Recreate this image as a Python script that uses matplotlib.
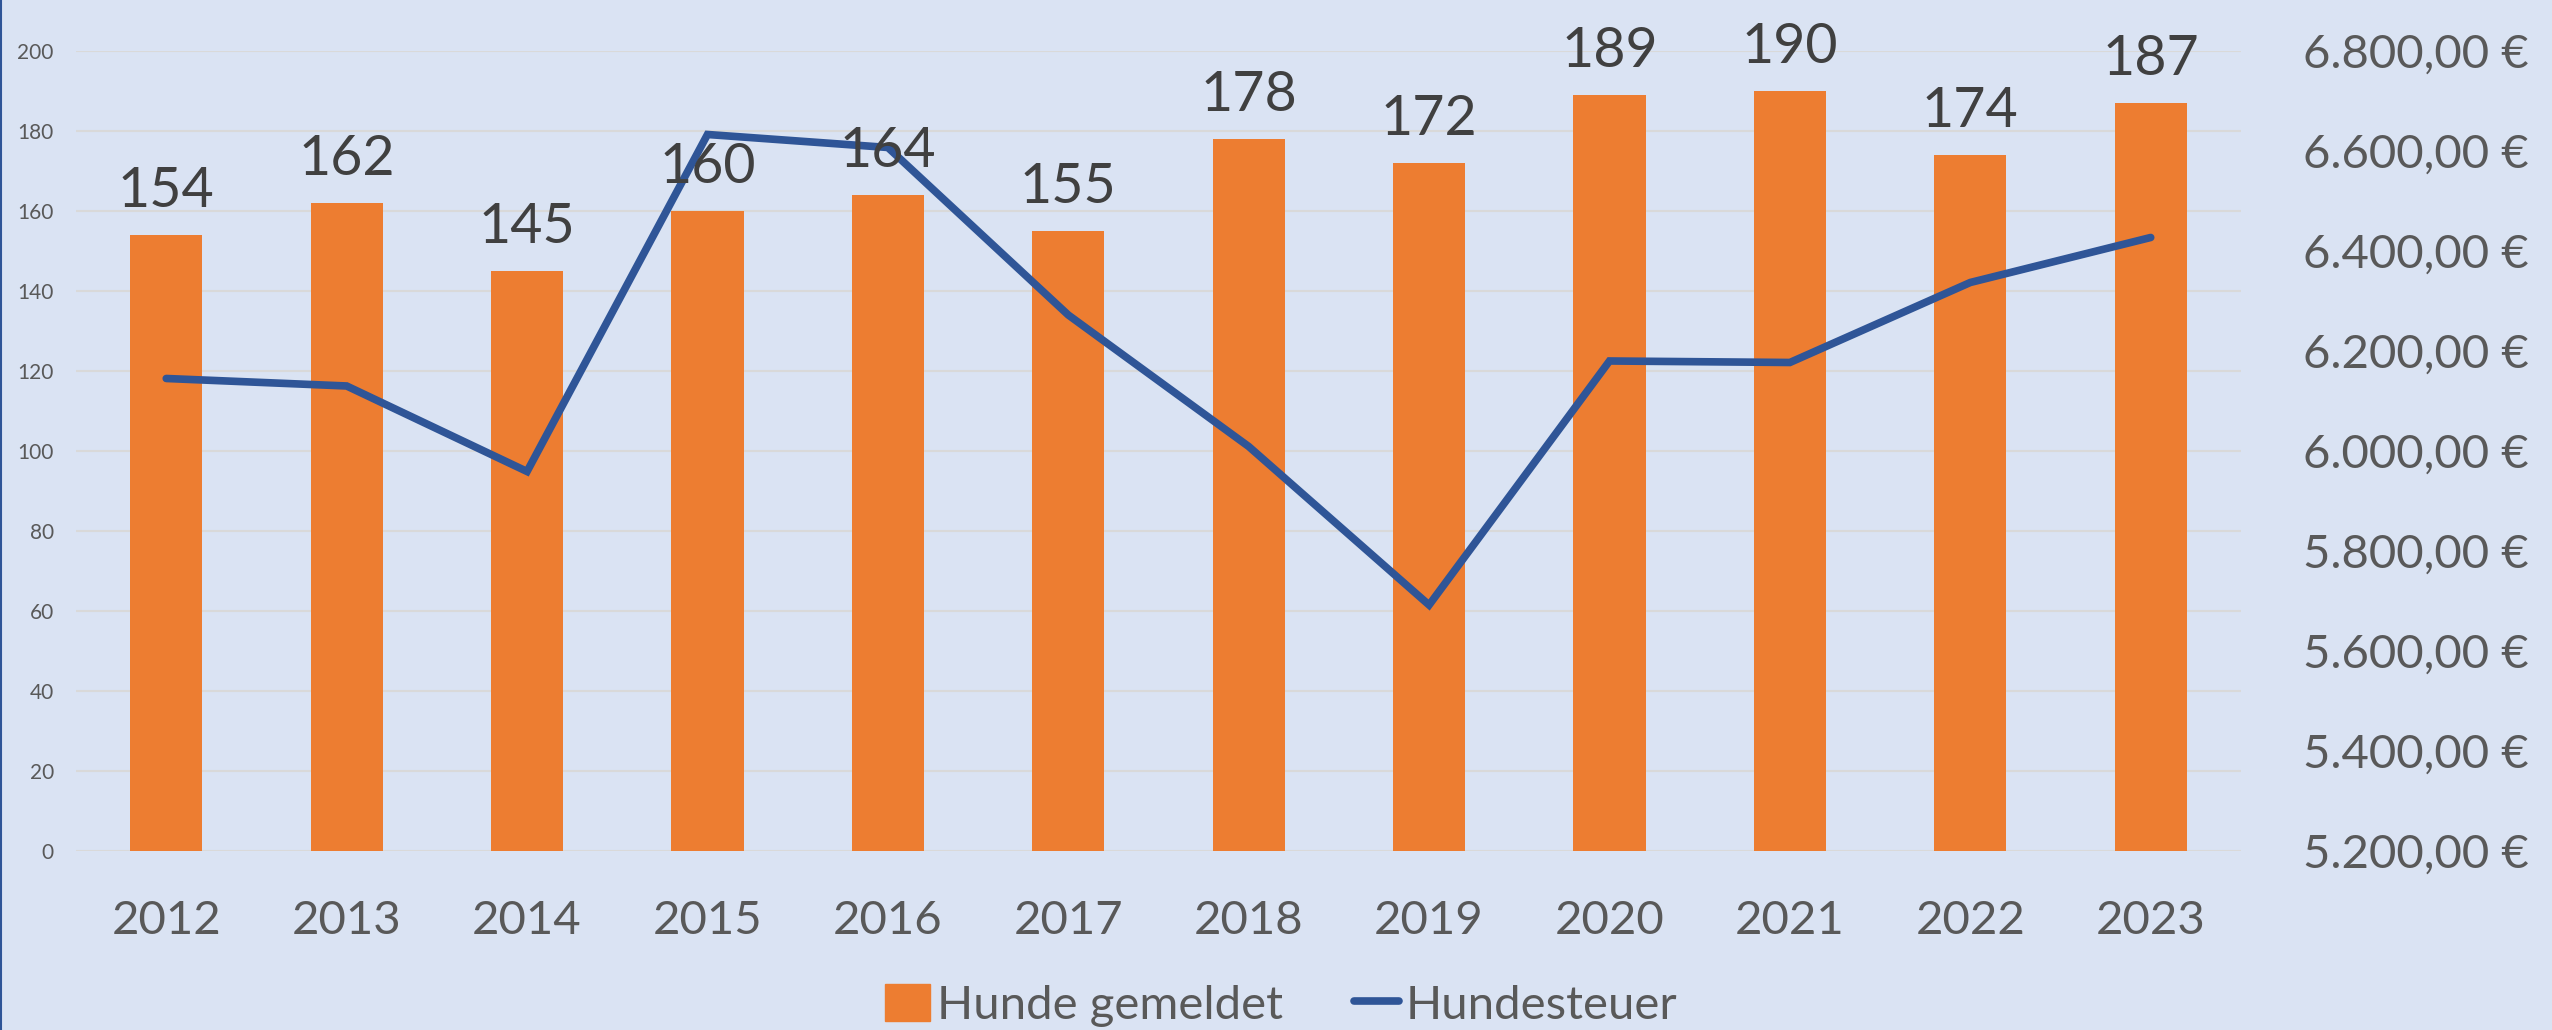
import matplotlib.pyplot as plt
from matplotlib.ticker import FuncFormatter, MultipleLocator
from matplotlib.lines import Line2D

# Daten: gemeldete Hunde und Hundesteuer pro Jahr
jahre = ["2012", "2013", "2014", "2015", "2016", "2017",
         "2018", "2019", "2020", "2021", "2022", "2023"]
hunde = [154, 162, 145, 160, 164, 155, 178, 172, 189, 190, 174, 187]
steuer = [6145, 6130, 5959, 6633, 6607, 6272,
          6009, 5692, 6180, 6177, 6337, 6427]

BG = "#DAE3F3"
ORANGE = "#ED7D31"
BLUE = "#2F5597"
GRAY = "#595959"

plt.rcParams['font.family'] = ['Lato', 'DejaVu Sans']


def euro(v, pos):
    # deutsches Format: 6.800,00 €
    s = f"{v:,.2f}".replace(",", "X").replace(".", ",").replace("X", ".")
    return s + " €"


fig = plt.figure(figsize=(25.52, 10.30), dpi=100)
fig.patch.set_facecolor(BG)
ax = fig.add_axes([0.0298, 0.1738, 0.8483, 0.7767])
ax.set_facecolor(BG)

x = list(range(len(jahre)))
ax.bar(x, hunde, width=0.4, color=ORANGE, zorder=2)
ax.set_xlim(-0.5, len(jahre) - 0.5)
ax.set_ylim(0, 200)
ax.yaxis.set_major_locator(MultipleLocator(20))
ax.grid(axis='y', color="#D9D9D9", lw=1.5)
ax.set_axisbelow(True)
ax.set_xticks(x)
ax.set_xticklabels(jahre)
ax.tick_params(axis='x', length=0, pad=35, labelsize=34, labelcolor=GRAY)
ax.tick_params(axis='y', length=0, pad=16, labelsize=15, labelcolor=GRAY)
for s in ax.spines.values():
    s.set_visible(False)

ax2 = ax.twinx()
ax2.plot(x, steuer, color=BLUE, lw=5.5, solid_capstyle='round',
         solid_joinstyle='miter', zorder=3)
ax2.set_ylim(5200, 6800)
ax2.yaxis.set_major_locator(MultipleLocator(200))
ax2.yaxis.set_major_formatter(FuncFormatter(euro))
ax2.tick_params(axis='y', length=0, pad=45, labelsize=34, labelcolor=GRAY)
for s in ax2.spines.values():
    s.set_visible(False)

# Datenbeschriftungen über den Balken (oberste Ebene)
for i, v in enumerate(hunde):
    ax2.annotate(str(v), xy=(i, v), xycoords=ax.transData,
                 xytext=(0, 20), textcoords='offset points',
                 ha='center', va='baseline', fontsize=40,
                 color="#404040", annotation_clip=False, zorder=5)

handles = [plt.Rectangle((0, 0), 1, 1, color=ORANGE),
           Line2D([0], [0], color=BLUE, lw=5.5, solid_capstyle='round')]
fig.legend(handles, ["Hunde gemeldet", "Hundesteuer"], loc='center',
           bbox_to_anchor=(0.502, 0.024), ncol=2, frameon=False,
           fontsize=34, labelcolor=GRAY, handlelength=0.95,
           handleheight=0.85, handletextpad=0.15, columnspacing=1.5)

# schmale blaue Linie am linken Rand
fig.add_artist(Line2D([0.0005, 0.0005], [0, 1], color=BLUE, lw=1.5,
                      transform=fig.transFigure))

fig.savefig("out.png", dpi=100, facecolor=BG)
